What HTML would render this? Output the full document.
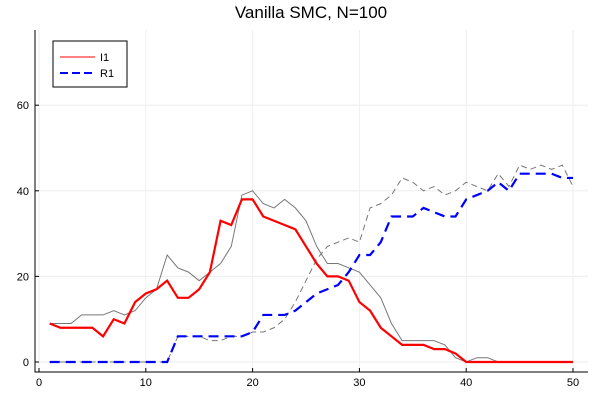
<!DOCTYPE html>
<html><head><meta charset="utf-8"><style>body{margin:0;background:#fff}svg{font-family:"Liberation Sans",sans-serif}</style></head>
<body>
<svg id="c" width="600" height="400"></svg>
<script>
const xs=[];for(let i=1;i<=50;i++)xs.push(i);
const i1=[9,8,8,8,8,6,10,9,14,16,17,19,15,15,17,21,33,32,38,38,34,33,32,31,27,23,20,20,19,14,12,8,6,4,4,4,3,3,2,0,0,0,0,0,0,0,0,0,0,0];
const iTrue=[9,9,9,11,11,11,12,11,12,15,17,25,22,21,19,21,23,27,39,40,37,36,38,36,33,27,23,23,22,21,18,15,9,5,5,5,5,4,1,0,1,1,0,0,0,0,0,0,0,0];
const r1=[0,0,0,0,0,0,0,0,0,0,0,0,6,6,6,6,6,6,6,7,11,11,11,12,14,16,17,18,21,25,25,28,34,34,34,36,35,34,34,38,39,40,42,40,44,44,44,44,43,43];
const rTrue=[0,0,0,0,0,0,0,0,0,0,0,0,6,6,6,5,5,6,6,7,7,8,10,14,19,24,27,28,29,28,36,37,39,43,42,40,41,39,40,42,41,40,44,41,46,45,46,45,46,41];
const xTicks=[0,10,20,30,40,50];
const yTicks=[0,20,40,60];
const X=v=>39+v*10.68, Y=v=>362-v*4.28;
const svg=document.getElementById('c');const NS='http://www.w3.org/2000/svg';
function mk(t,a,p){const e=document.createElementNS(NS,t);for(const k in a)e.setAttribute(k,a[k]);(p||svg).appendChild(e);return e;}
for(const t of xTicks){const g=mk('line',{x1:X(t),x2:X(t),y1:30,y2:372,stroke:'#eee'});
mk('line',{x1:X(t),x2:X(t),y1:372,y2:368,stroke:'#000'});
const tx=mk('text',{x:X(t),y:386,'font-size':11,'text-anchor':'middle'});tx.textContent=t;}
for(const t of yTicks){const g=mk('line',{x1:35,x2:588,y1:Y(t),y2:Y(t),stroke:'#eee'});
mk('line',{x1:35,x2:39,y1:Y(t),y2:Y(t),stroke:'#000'});
const tx=mk('text',{x:29,y:Y(t)+4,'font-size':11,'text-anchor':'end'});tx.textContent=t;}
mk('path',{d:'M35 30V372H588',fill:'none',stroke:'#000'});
function line(d,st,w,dash,name){const p=mk('polyline',{points:d.map((v,i)=>X(xs[i])+','+Y(v)).join(' '),fill:'none',stroke:st,'stroke-width':w,'stroke-dasharray':dash||'none'});}
line(iTrue,'#777',1,'','i-true-line');
line(rTrue,'#777',1,'6 4','r-true-line');
line(i1,'#f00',2.2,'','i1-line');
line(r1,'#00f',2.2,'10 6','r1-line');
const t=mk('text',{x:311,y:18,'font-size':17,'text-anchor':'middle'});t.textContent='Vanilla SMC, N=100';
const lg=mk('g',{});
mk('rect',{x:53,y:41,width:74,height:46,fill:'#fff',stroke:'#000'},lg);
mk('line',{x1:60,x2:95,y1:57,y2:57,stroke:'#f00','stroke-width':1},lg);
mk('line',{x1:60,x2:95,y1:73,y2:73,stroke:'#00f','stroke-width':2,'stroke-dasharray':'8 4'},lg);
const a=mk('text',{x:100,y:61,'font-size':11},lg);a.textContent='I1';
const b=mk('text',{x:100,y:77,'font-size':11},lg);b.textContent='R1';
</script>
</body></html>
